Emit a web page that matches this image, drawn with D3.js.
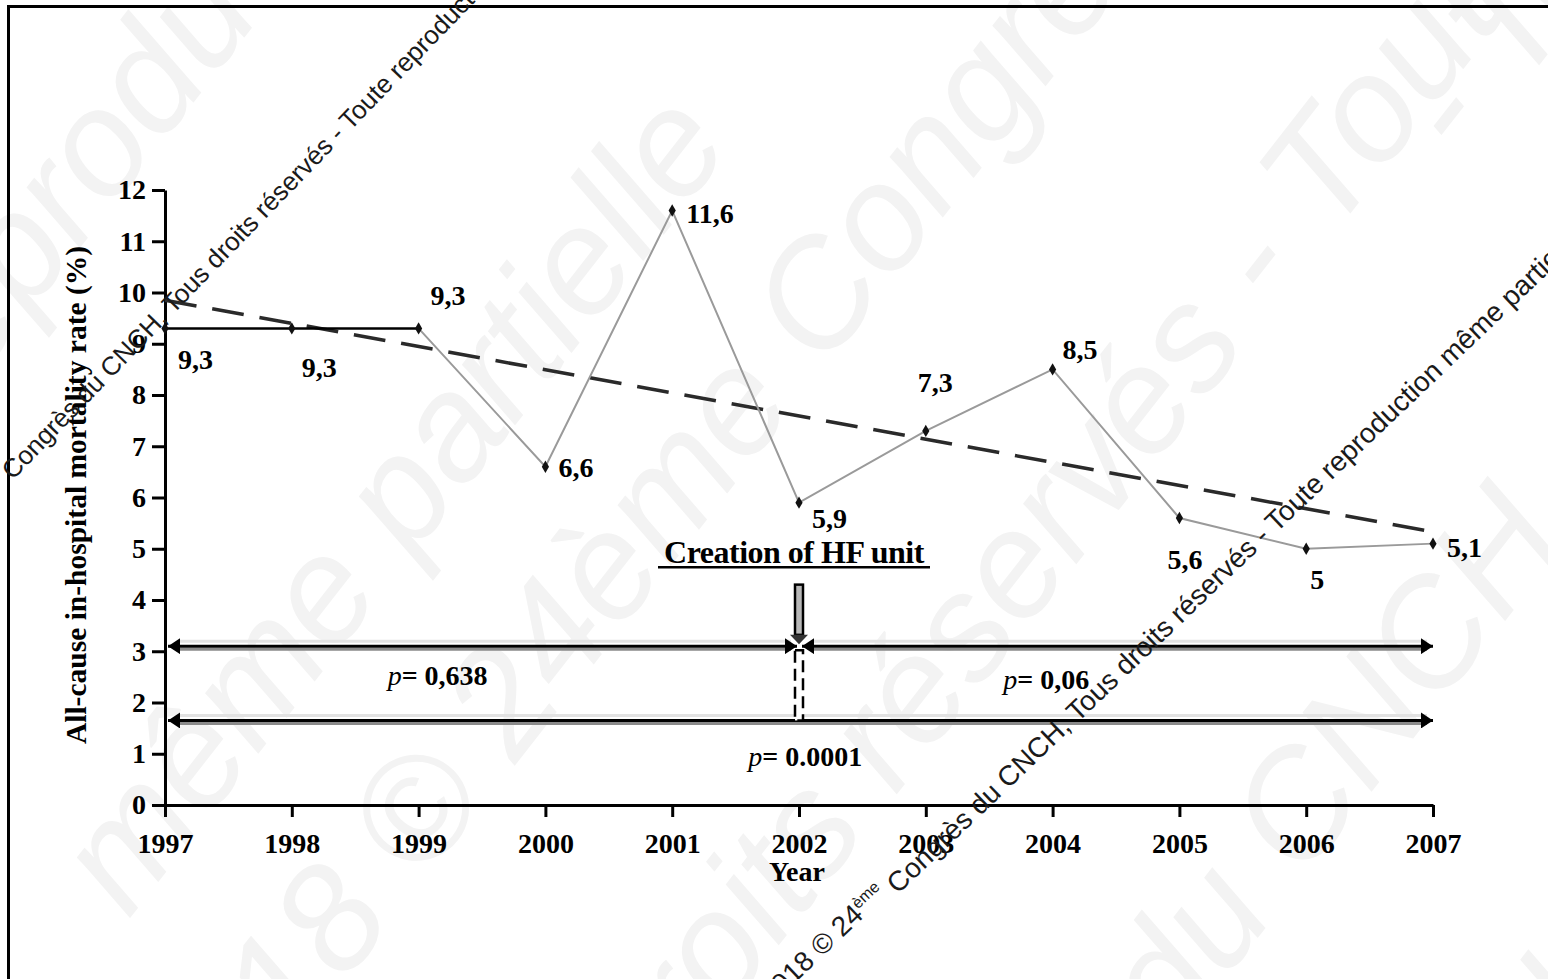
<!DOCTYPE html>
<html>
<head>
<meta charset="utf-8">
<script src="https://cdn.jsdelivr.net/npm/d3@7"></script>
<style>
  body { margin: 0; background: #fff; }
  svg { display: block; }
  .serif { font-family: "Liberation Serif", "Times New Roman", serif; font-weight: bold; }
</style>
</head>
<body>
<script>
// values
const years = [1997, 1998, 1999, 2000, 2001, 2002, 2003, 2004, 2005, 2006, 2007];
const mortality = [9.3, 9.3, 9.3, 6.6, 11.6, 5.9, 7.3, 8.5, 5.6, 5, 5.1];
const valueLabels = ["9,3", "9,3", "9,3", "6,6", "11,6", "5,9", "7,3", "8,5", "5,6", "5", "5,1"];
const trendEnds = [9.85, 5.33];          // dashed trend line at 1997 and 2007
const yTicks = [0, 1, 2, 3, 4, 5, 6, 7, 8, 9, 10, 11, 12];
const unitYear = 2002;                    // creation of the HF unit
const periods = [
  { from: 1997, to: 2002, level: 3.1 },
  { from: 2002, to: 2007, level: 3.1 },
  { from: 1997, to: 2007, level: 1.65 }
];
const pValues = [
  { text: "0,638", year: 1999.15, level: 2.34 },
  { text: "0,06", year: 2003.95, level: 2.26 },
  { text: "0.0001", year: 2002.05, level: 0.77 }
];

// label offsets in px (dx, dy) from each point
const labelOffset = [[13, 41], [10, 49], [12, -23], [13, 10], [14, 12], [13, 25],
                     [-8, -39], [10, -10], [-12, 51], [4, 40], [14, 13]];

const watermark = "2018 © 24ème Congrès du CNCH, Tous droits réservés - Toute reproduction même partielle";

const W = 1548, H = 979;
const svg = d3.select("body").append("svg").attr("width", W).attr("height", H);

// big faint watermark behind everything
const bigMarks = [
  { t: "reproduction", x: 160, y: 60 },
  { t: "même partielle", x: 390, y: 500 },
  { t: "2018 © 24ème Congrès", x: 640, y: 520 },
  { t: "droits réservés - Toute", x: 1060, y: 500 },
  { t: "du CNCH", x: 1330, y: 760 },
  { t: "reproduction", x: 1560, y: 1000 },
  { t: "- Te", x: 1500, y: 30 }
];
svg.append("g").selectAll("text")
  .data(bigMarks)
  .join("text")
  .attr("transform", d => `translate(${d.x},${d.y}) rotate(-52)`)
  .attr("text-anchor", "middle")
  .attr("dy", "0.35em")
  .style("font-family", "Liberation Sans, Arial, sans-serif")
  .style("font-style", "italic")
  .style("font-size", "150px")
  .style("fill", "#f3f3f3")
  .text(d => d.t);

// frame
svg.append("rect")
  .attr("x", 8.5).attr("y", 6.5)
  .attr("width", 1700).attr("height", 1100)
  .attr("fill", "none").attr("stroke", "#000").attr("stroke-width", 3);

const x = d3.scaleLinear().domain([1997, 2007]).range([165, 1433]);
const y = d3.scaleLinear().domain([0, 12]).range([805, 190]);

// axes
const yAxis = svg.append("g")
  .attr("transform", `translate(${x(1997)},0)`)
  .call(d3.axisLeft(y).tickValues(yTicks).tickSize(13).tickSizeOuter(0).tickPadding(6).tickFormat(d3.format("d")));

const xAxis = svg.append("g")
  .attr("transform", `translate(0,${y(0)})`)
  .call(d3.axisBottom(x).tickValues(years).tickSize(12).tickSizeOuter(0).tickPadding(16).tickFormat(d => d));

[yAxis, xAxis].forEach(g => {
  g.select(".domain").attr("stroke", "#000").attr("stroke-width", 3);
  g.selectAll(".tick line").attr("stroke", "#000").attr("stroke-width", 3);
  g.selectAll(".tick text")
    .attr("class", "serif")
    .style("font-size", "28px")
    .attr("fill", "#000");
});

// axis titles
svg.append("text")
  .attr("class", "serif")
  .attr("transform", `translate(86,495) rotate(-90)`)
  .attr("text-anchor", "middle")
  .style("font-size", "29.5px")
  .text("All-cause in-hospital mortality rate (%)");

svg.append("text")
  .attr("class", "serif")
  .attr("x", 797).attr("y", 881)
  .attr("text-anchor", "middle")
  .style("font-size", "28px")
  .text("Year");

// dashed trend line
svg.append("line")
  .attr("x1", x(years[0])).attr("y1", y(trendEnds[0]))
  .attr("x2", x(years[years.length - 1])).attr("y2", y(trendEnds[1]))
  .attr("stroke", "#2a2a2a").attr("stroke-width", 3.5)
  .attr("stroke-dasharray", "32,16");

// data line: grey from 1999 on, black for the first flat part
const pts = years.map((yr, i) => [x(yr), y(mortality[i])]);
const line = d3.line();
svg.append("path")
  .attr("d", line(pts.slice(2)))
  .attr("fill", "none").attr("stroke", "#9a9a9a").attr("stroke-width", 2);
svg.append("path")
  .attr("d", line(pts.slice(0, 3)))
  .attr("fill", "none").attr("stroke", "#000").attr("stroke-width", 2.5);

svg.append("g").selectAll("path")
  .data(pts)
  .join("path")
  .attr("transform", d => `translate(${d[0]},${d[1]})`)
  .attr("d", d3.symbol(d3.symbolDiamond, 45))
  .attr("fill", "#111");

svg.append("g").selectAll("text")
  .data(valueLabels)
  .join("text")
  .attr("class", "serif")
  .attr("x", (d, i) => pts[i][0] + labelOffset[i][0])
  .attr("y", (d, i) => pts[i][1] + labelOffset[i][1])
  .style("font-size", "28px")
  .text(d => d);

// period arrows
const defs = svg.append("defs");
defs.append("marker")
  .attr("id", "head")
  .attr("markerUnits", "userSpaceOnUse")
  .attr("viewBox", "0 -8 12 16")
  .attr("refX", 12).attr("refY", 0)
  .attr("markerWidth", 12).attr("markerHeight", 16)
  .attr("orient", "auto-start-reverse")
  .append("path").attr("d", "M0,-8L12,0L0,8Z").attr("fill", "#000");

const arrows = svg.append("g");
periods.forEach(p => {
  const x1 = x(p.from) + 3;
  const x2 = x(p.to) - (p.to === unitYear ? 2 : 0);
  const yy = y(p.level);
  arrows.append("line")
    .attr("x1", x1 + 10).attr("x2", x2 - 6)
    .attr("y1", yy + 3).attr("y2", yy + 3)
    .attr("stroke", "#8a8a8a").attr("stroke-width", 3);
  arrows.append("line")
    .attr("x1", x1 + 10).attr("x2", x2 - 6)
    .attr("y1", yy - 5).attr("y2", yy - 5)
    .attr("stroke", "#e2e2e2").attr("stroke-width", 3);
  arrows.append("line")
    .attr("x1", x1).attr("x2", x2)
    .attr("y1", yy).attr("y2", yy)
    .attr("stroke", "#000").attr("stroke-width", 3)
    .attr("marker-start", "url(#head)")
    .attr("marker-end", "url(#head)");
});

// creation of HF unit: label, block arrow and dashed stem
const ux = x(unitYear);
svg.append("text")
  .attr("class", "serif")
  .attr("x", ux - 5).attr("y", y(4.9) + 9)
  .attr("text-anchor", "middle")
  .style("font-size", "32px")
  .style("letter-spacing", "-0.5px")
  .text("Creation of HF unit");
svg.append("line")
  .attr("x1", 658).attr("x2", 930)
  .attr("y1", y(4.64)).attr("y2", y(4.64))
  .attr("stroke", "#000").attr("stroke-width", 2.5);

svg.append("rect")
  .attr("x", ux - 4).attr("y", y(4.3))
  .attr("width", 8).attr("height", y(3.32) - y(4.3))
  .attr("fill", "#b8b8b8").attr("stroke", "#000").attr("stroke-width", 2.5);
svg.append("path")
  .attr("d", `M${ux - 9},${y(3.32)}L${ux + 9},${y(3.32)}L${ux},${y(3.1) - 2}Z`)
  .attr("fill", "#333");
svg.append("rect")
  .attr("x", ux - 4).attr("y", y(3.1) + 4)
  .attr("width", 8).attr("height", y(1.65) - y(3.1) - 4)
  .attr("fill", "#fff").attr("stroke", "#000").attr("stroke-width", 2.5)
  .attr("stroke-dasharray", "12,6");

// p values
const pText = svg.append("g").selectAll("text")
  .data(pValues)
  .join("text")
  .attr("class", "serif")
  .attr("x", d => x(d.year)).attr("y", d => y(d.level))
  .attr("text-anchor", "middle")
  .style("font-size", "28px");
pText.append("tspan").style("font-style", "italic").style("font-weight", "normal").text("p");
pText.append("tspan").text(d => "= " + d.text);

// small diagonal copyright lines on top
const smallMarks = [
  { x: -101, y: 589, a: -46, fs: 26 },
  { x: 771, y: 1006, a: -43.7, fs: 28 }
];
const sm = svg.append("g").selectAll("text")
  .data(smallMarks)
  .join("text")
  .attr("transform", d => `translate(${d.x},${d.y}) rotate(${d.a})`)
  .style("font-family", "Liberation Sans, Arial, sans-serif")
  .style("font-size", d => d.fs + "px")
  .style("fill", "#1a1a1a");
sm.append("tspan").text(watermark.slice(0, 9));
sm.append("tspan").attr("dy", "-0.6em").style("font-size", d => Math.round(d.fs * 0.58) + "px").text("ème");
sm.append("tspan").attr("dy", "0.6em").text(watermark.slice(12));
</script>
</body>
</html>
